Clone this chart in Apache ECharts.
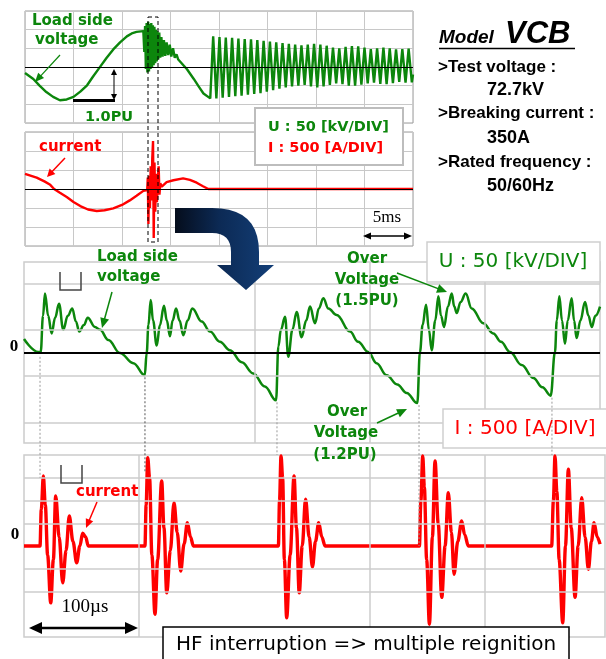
<!DOCTYPE html>
<html><head><meta charset="utf-8">
<script src="https://cdn.jsdelivr.net/npm/echarts/dist/echarts.min.js"></script>
<style>html,body{margin:0;padding:0;background:#fff;overflow:hidden}#c{width:606px;height:659px}</style>
</head><body><div id="c"></div>
<script>
// ---------- DATA ----------
// Top panel: load side voltage [ms, kV]
const topVSine = [[0,-16],[0.86,-32],[1.5,-50],[2.2,-67],[2.9,-80],[3.6,-89],[4.3,-87],[5.0,-80],[5.7,-66],[6.4,-49],[7.0,-26],[7.7,-1],[8.4,24],[9.1,47],[9.8,66],[10.5,82],[11.0,90],[11.5,94],[12.2,96]];
const topVBurst = [[12.3,40],[12.38,110],[12.46,-5],[12.54,118],[12.62,-15],[12.7,121],[12.78,-12],[12.86,115],[12.94,-5],[13.02,118],[13.1,0],[13.18,112],[13.26,5],[13.34,108],[13.42,10],[13.5,100],[13.58,15],[13.66,96],[13.74,20],[13.84,92],[13.94,25],[14.06,80],[14.18,28],[14.32,72],[14.46,30],[14.6,66],[14.76,32],[14.92,60],[15.08,28],[15.26,50],[15.44,25],[15.62,34],[15.8,20],[16.0,17]];
const topVDecay = [[16.7,-6],[17.4,-32],[17.9,-52],[18.4,-71],[19.1,-84]];
const topVHF = [[19.40,82],[19.73,-84],[20.05,80],[20.38,-82],[20.70,79],[21.03,-80],[21.35,78],[21.68,-78],[22.00,76],[22.33,-77],[22.65,75],[22.98,-74],[23.30,74],[23.63,-72],[23.95,72],[24.28,-70],[24.60,70],[24.93,-66],[25.25,68],[25.58,-62],[25.90,66],[26.23,-58],[26.55,64],[26.88,-55],[27.20,62],[27.53,-52],[27.85,60],[28.18,-50],[28.50,58],[28.83,-48],[29.15,60],[29.48,-52],[29.80,62],[30.13,-55],[30.45,60],[30.78,-52],[31.10,57],[31.43,-48],[31.75,52],[32.08,-44],[32.40,50],[32.73,-46],[33.05,54],[33.38,-50],[33.70,56],[34.03,-50],[34.35,55],[34.68,-47],[35.00,52],[35.33,-44],[35.65,48],[35.98,-42],[36.30,50],[36.63,-45],[36.95,52],[37.28,-46],[37.60,50],[37.93,-43],[38.25,47],[38.58,-40],[38.90,48],[39.23,-42],[39.55,49],[39.88,-41],[40.0,-20]];
// Top panel: current [ms, A]
const topISine = [[0,400],[1.2,300],[2.0,200],[2.6,110],[3.0,0],[3.6,-100],[4.3,-210],[5.0,-340],[5.7,-450],[6.5,-540],[7.4,-580],[8.2,-560],[9.1,-510],[10.0,-420],[10.8,-300],[11.5,-180],[12.2,-50]];
const topIBurst = [[12.6,-30],[12.66,300],[12.72,-920],[12.8,350],[12.88,-500],[12.96,600],[13.04,-300],[13.12,800],[13.2,1260],[13.27,-1290],[13.35,700],[13.43,-600],[13.51,400],[13.6,-350],[13.7,250],[13.78,600],[13.86,-150],[13.95,150],[14.1,60]];
const topITail = [[14.6,180],[15.3,230],[16.3,280],[17.0,240],[17.7,165],[18.3,80],[18.9,0],[40,0]];
// Bottom panel: load side voltage [µs, kV]
const botV = [[0,15],[12.4,1],[14.5,1],[16.5,40],[18.2,64],[21,40],[24,21],[27,38],[30.4,53],[34.1,25],[38,40],[41.9,48],[45,34],[48,23],[52,30],[55.3,38],[61.6,28],[66,25],[73.2,14],[83.3,0],[94.9,-11],[104.8,-24],[106.5,0],[108,30],[110,57],[112,35],[115.2,8],[118,30],[121.5,51],[124,35],[126.7,18],[129,35],[132,48],[135,35],[138.3,19],[142,35],[146.1,48],[154.2,34],[161.5,23],[170,12],[178.8,3],[189,-10],[199,-22],[209,-36],[218.8,-51],[220.8,7],[223,25],[226.6,39],[229.4,-4],[233,25],[236.7,44],[241,17],[245,35],[248.3,50],[252.6,32],[256,48],[259.8,59],[264.2,48],[271.4,41],[283,23],[290,12],[298.9,1],[306,-11],[314.8,-24],[324,-34],[332.2,-43],[341.4,-54],[343.7,1],[346,30],[349,52],[351.5,25],[353.9,3],[357,35],[359.7,61],[362,40],[364.6,28],[368,50],[371.3,64],[373.5,50],[375.6,43],[379,55],[383.4,64],[388.6,48],[398.7,32],[407.4,21],[414,12],[421.9,1],[432,-13],[442.1,-27],[450,-37],[457.2,-46],[460.9,1],[462.5,35],[464.7,61],[467,35],[469.6,10],[472,35],[475.4,59],[477.5,35],[479.7,16],[483,35],[487,55],[490,40],[492.8,28],[496,40],[500,50]];
// Bottom panel: current [µs, A]
const botI = [[0,0],[13.9,0],[15,800],[16.8,1540],[18.5,900],[20.5,-200],[23.2,-1250],[25.5,-300],[27.5,1100],[30.5,200],[33.6,-810],[36.5,-100],[39.3,660],[42.5,100],[45.7,-370],[48.5,0],[50.9,280],[53.5,200],[55.8,0],[105,0],[106,900],[107.4,1940],[109,1500],[111,-200],[113.7,-1500],[116,-300],[119.5,1430],[121.5,400],[123.9,-1030],[127,-100],[130.2,950],[133,300],[136,-550],[139,50],[141.8,510],[144.5,200],[147,0],[220.8,0],[221.8,1000],[223.1,1980],[224.5,1500],[226,-300],[228,-1580],[231,-200],[234.4,1540],[236.5,400],[238.9,-1030],[241.5,0],[244.4,1030],[247.5,200],[250.4,-460],[253,100],[255.8,510],[258.5,200],[261.3,0],[343.2,0],[344.5,1000],[346.1,1980],[347.5,1300],[349.5,-300],[351.9,-1720],[354.5,200],[356.8,1870],[359.5,500],[362.6,-1130],[365.5,0],[368.3,1170],[371,300],[373.3,-620],[376.5,100],[379.9,550],[382.5,250],[385.7,0],[458,0],[459.5,1000],[460.9,1980],[462.5,1200],[464.5,-300],[467.6,-1690],[470,0],[472.5,1690],[475,400],[478.3,-1130],[481,0],[484.1,1060],[487,200],[489.9,-510],[492.5,100],[494.8,510],[497.5,200],[500,40]];
// Reignition instants [µs], voltage at reignition [kV], current level where the guide ends [A]
const reignT = [13.9, 105, 219.6, 342.9, 458.3];
const reignV = [-2, -24, -51, -54, -46];
const reignI = [1500, 1600, 2000, 0, 2000];
// Grid line values of the lower panels
const botVGridY = [75, 25, -25, -75];
const botVGridX = [200, 300, 400];
const botIGridY = [1500, 1000, 500, -500, -1000];
const botIGridX = [100, 300, 400];

// ---------- CHART ----------
const GREEN = '#0c860c', RED = '#ff0000';
const DV = '"DejaVu Sans", Verdana, sans-serif';
const AR = '"Liberation Sans", Arial, sans-serif';
const SE = '"Liberation Serif", "Times New Roman", serif';
const chart = echarts.init(document.getElementById('c'), null, {renderer: 'canvas'});

const hideAx = {axisLine:{show:false}, axisTick:{show:false}, axisLabel:{show:false}};
const topSplit = {show:true, lineStyle:{color:'#c8c8c8', width:1}};
const gridLineSeries = (xi, yi, xs, ys, zeroW) => ({
  type:'line', data:[], xAxisIndex:xi, yAxisIndex:yi, z:1, silent:true,
  markLine:{silent:true, symbol:['none','none'], label:{show:false}, animation:false,
    data: xs.map(v=>({xAxis:v, lineStyle:{color:'#cccccc', width:1.5, type:'solid'}}))
      .concat(ys.map(v=>({yAxis:v, lineStyle:{color:'#cccccc', width:1.5, type:'solid'}})))
      .concat(zeroW ? [{yAxis:0, lineStyle:{color:'#000', width:zeroW, type:'solid'}}] : [])}
});

chart.setOption({
  animation:false,
  grid:[
    {left:25, top:11, width:388, height:112, show:true, borderColor:'#9a9a9a', borderWidth:1},
    {left:25, top:132, width:388, height:114, show:true, borderColor:'#9a9a9a', borderWidth:1},
    {left:24, top:262, width:576, height:181, show:true, borderColor:'#cccccc', borderWidth:1.5},
    {left:24, top:455, width:581, height:182, show:true, borderColor:'#cccccc', borderWidth:1.5}
  ],
  xAxis:[
    Object.assign({gridIndex:0, type:'value', min:0, max:40, interval:5, splitLine:topSplit}, hideAx),
    Object.assign({gridIndex:1, type:'value', min:0, max:40, interval:5, splitLine:topSplit}, hideAx),
    Object.assign({gridIndex:2, type:'value', min:0, max:500, splitLine:{show:false}}, hideAx),
    Object.assign({gridIndex:3, type:'value', min:0, max:504.3, splitLine:{show:false}}, hideAx)
  ],
  yAxis:[
    Object.assign({gridIndex:0, type:'value', min:-150, max:150, interval:50, splitLine:topSplit}, hideAx),
    Object.assign({gridIndex:1, type:'value', min:-1500, max:1500, interval:500, splitLine:topSplit}, hideAx),
    Object.assign({gridIndex:2, type:'value', min:-97, max:98, splitLine:{show:false}}, hideAx),
    Object.assign({gridIndex:3, type:'value', min:-2000, max:2000, splitLine:{show:false}}, hideAx)
  ],
  series:[
    gridLineSeries(0,0,[],[],1),
    gridLineSeries(1,1,[],[],1),
    gridLineSeries(2,2,botVGridX,botVGridY,2),
    gridLineSeries(3,3,botIGridX,botIGridY,0),
    {type:'line', xAxisIndex:0, yAxisIndex:0, z:3, showSymbol:false, symbol:'none',
      data: topVSine.concat(topVBurst, topVDecay, topVHF), lineStyle:{color:GREEN, width:2.4}},
    {type:'line', xAxisIndex:1, yAxisIndex:1, z:3, showSymbol:false, symbol:'none',
      data: topISine.concat(topIBurst, topITail), lineStyle:{color:RED, width:2.4}},
    {type:'line', xAxisIndex:2, yAxisIndex:2, z:3, showSymbol:false, symbol:'none', smooth:0.4, smoothMonotone:'x',
      data: botV, lineStyle:{color:GREEN, width:2.5}},
    {type:'line', xAxisIndex:3, yAxisIndex:3, z:3, showSymbol:false, symbol:'none', smooth:0.35, smoothMonotone:'x',
      data: botI, lineStyle:{color:RED, width:3.4}}
  ]
});

// ---------- ANNOTATIONS ----------
const G = [];
function ln(x1,y1,x2,y2,stroke,w,dash){G.push({type:'line',silent:true,z:100,shape:{x1,y1,x2,y2},style:{stroke,lineWidth:w,lineDash:dash||null}});}
function head(x1,y1,x2,y2,color,hl,hw){
  const dx=x2-x1, dy=y2-y1, L=Math.hypot(dx,dy), ux=dx/L, uy=dy/L;
  const bx=x2-ux*hl, by=y2-uy*hl;
  G.push({type:'polygon',silent:true,z:101,shape:{points:[[x2,y2],[bx-uy*hw,by+ux*hw],[bx+uy*hw,by-ux*hw]]},style:{fill:color}});
}
function arrow(x1,y1,x2,y2,color,w,hl,hw,both){
  const dx=x2-x1, dy=y2-y1, L=Math.hypot(dx,dy), ux=dx/L, uy=dy/L;
  const sx = both ? x1+ux*hl*0.6 : x1, sy = both ? y1+uy*hl*0.6 : y1;
  ln(sx,sy,x2-ux*hl*0.6,y2-uy*hl*0.6,color,w);
  head(x1,y1,x2,y2,color,hl,hw);
  if(both) head(x2,y2,x1,y1,color,hl,hw);
}
function tx(x,y,str,font,color,align,valign){
  G.push({type:'text',silent:true,z:102,x,y,style:{text:str,font,fill:color,
    textAlign:align||'left',textVerticalAlign:valign||'middle',align:align||'left',verticalAlign:valign||'middle'}});
}
function rect(x,y,w,h,fill,stroke,lw,dash){G.push({type:'rect',silent:true,z:99,shape:{x,y,width:w,height:h},style:{fill:fill||'none',stroke:stroke||null,lineWidth:lw||0,lineDash:dash||null}});}
function poly(pts,stroke,lw){G.push({type:'polyline',silent:true,z:100,shape:{points:pts},style:{stroke,lineWidth:lw,fill:null}});}
function quad(p0,c,p1,n){const out=[];for(let i=0;i<=n;i++){const s=i/n,a=(1-s)*(1-s),b=2*(1-s)*s,d=s*s;out.push([a*p0[0]+b*c[0]+d*p1[0],a*p0[1]+b*c[1]+d*p1[1]]);}return out;}

// top voltage panel annotations
tx(32,21,'Load side','bold 15px '+DV,GREEN);
tx(35,40,'voltage','bold 15px '+DV,GREEN);
arrow(60,55,35,82,GREEN,1.2,9,4);
rect(73,99,42,3,'#000');
arrow(114,69,114,100,'#000',1,6,3,true);
tx(85,117,'1.0PU','bold 14.5px '+DV,GREEN);
rect(148,17,10,225,null,'#000',1,[4,3]);
rect(255,108,148,57,'#fff','#bdbdbd',2);
tx(268,127,'U : 50 [kV/DIV]','bold 14.5px '+DV,GREEN);
tx(268,148,'I : 500 [A/DIV]','bold 14.5px '+DV,RED);
// top current panel annotations
tx(39,147,'current','bold 15px '+DV,RED);
arrow(65,158,47,177,RED,1.5,8,4);
tx(387,218,'5ms','17px '+SE,'#000','center');
arrow(363,236,412,236,'#000',1.5,8,3.5,true);
// right side text
tx(439,47,'Model','italic bold 19px '+AR,'#000','left','bottom');
tx(505,50,'VCB','italic bold 31px '+AR,'#000','left','bottom');
ln(439,48.5,575,48.5,'#000',1.5);
tx(438,67,'>Test voltage :','bold 17px '+AR,'#000');
tx(487,90,'72.7kV','bold 18px '+AR,'#000');
tx(438,113,'>Breaking current :','bold 17px '+AR,'#000');
tx(487,138,'350A','bold 18px '+AR,'#000');
tx(438,162,'>Rated frequency :','bold 17px '+AR,'#000');
tx(487,186,'50/60Hz','bold 18px '+AR,'#000');
// blue curved arrow
const bluePts = [[175,208]].concat(quad([212,208],[259,208],[259,252],10),
  [[259,265],[274,265],[246,290],[217,265],[231,265]], quad([231,252],[231,233],[212,233],8), [[175,233]]);
G.push({type:'polygon',silent:true,z:98,shape:{points:bluePts},
  style:{fill:new echarts.graphic.LinearGradient(0,0,1,0,[{offset:0,color:'#050d1c'},{offset:0.45,color:'#0c2a55'},{offset:1,color:'#133f78'}])}});
// bottom voltage annotations
tx(97,257,'Load side','bold 15px '+DV,GREEN);
tx(97,277,'voltage','bold 15px '+DV,GREEN);
arrow(112,292,102,328,GREEN,1.5,10,4.5);
poly([[60,272],[60,290],[81,290],[81,272]],'#444',1.5);
tx(14,347,'0','bold 17px '+SE,'#000','center');
rect(427,242,173,40,'#fff','#cfcfcf',1.5);
tx(513,262,'U : 50 [kV/DIV]','20px '+DV,GREEN,'center');
tx(367,259,'Over','bold 15px '+DV,GREEN,'center');
tx(367,280,'Voltage','bold 15px '+DV,GREEN,'center');
tx(367,301,'(1.5PU)','bold 15px '+DV,GREEN,'center');
arrow(397,273,447,292,GREEN,1.5,10,4.5);
tx(347,412,'Over','bold 15px '+DV,GREEN,'center');
tx(346,433,'Voltage','bold 15px '+DV,GREEN,'center');
tx(345,455,'(1.2PU)','bold 15px '+DV,GREEN,'center');
arrow(377,423,407,409,GREEN,1.5,10,4.5);
rect(443,409,165,39,'#fff','#cfcfcf',1.5);
tx(525,429,'I : 500 [A/DIV]','20px '+DV,RED,'center');
// bottom current annotations
poly([[61,465],[61,483],[82,483],[82,465]],'#444',1.5);
tx(76,492,'current','bold 15px '+DV,RED);
arrow(97,502,86,528,RED,1.5,9,4);
tx(15,535,'0','bold 17px '+SE,'#000','center');
tx(85,607,'100µs','19px '+SE,'#000','center');
arrow(29,628,138,628,'#000',2.5,13,6,true);
rect(163,627,406,40,'#fff','#000',1.5);
tx(176,645,'HF interruption => multiple reignition','20px '+DV,'#000');
// reignition guide lines (through the axes' own scales)
reignT.forEach((t,k)=>{
  const p1 = chart.convertToPixel({xAxisIndex:2, yAxisIndex:2}, [t, reignV[k]]);
  const p2 = chart.convertToPixel({xAxisIndex:3, yAxisIndex:3}, [t, reignI[k]]);
  ln(p1[0], p1[1]+2, p1[0], p2[1], k===1 ? '#555' : '#999', 1, [2,2]);
});

chart.setOption({graphic:{elements:G}});
</script></body></html>
